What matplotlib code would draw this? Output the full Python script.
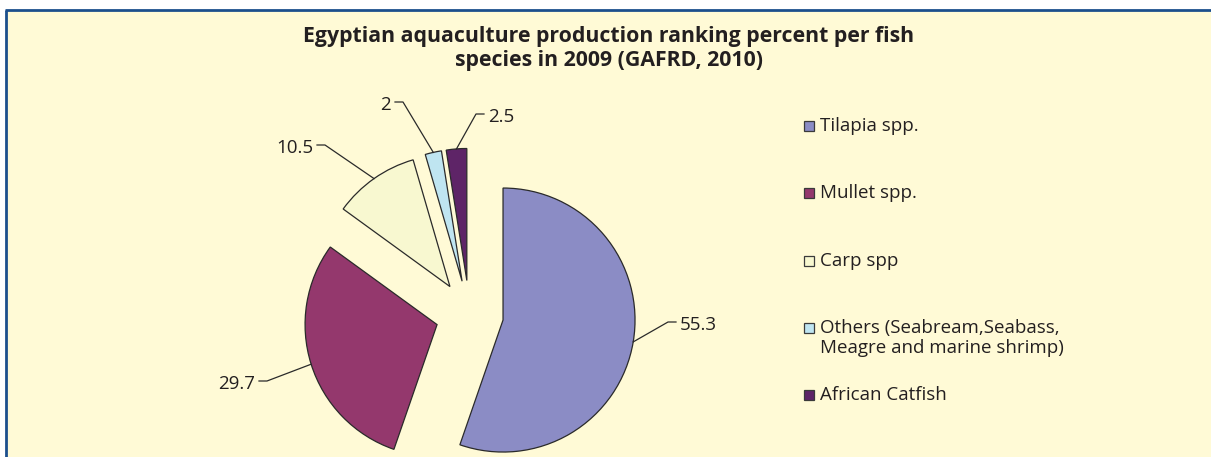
import matplotlib
matplotlib.use("Agg")
import matplotlib.pyplot as plt
from matplotlib.patches import Rectangle
import numpy as np

plt.rcParams['font.family'] = ['Open Sans', 'DejaVu Sans']

species = ['Tilapia spp.', 'Mullet spp.', 'Carp spp',
           'Others (Seabream,Seabass,\nMeagre and marine shrimp)', 'African Catfish']
percent = [55.3, 29.7, 10.5, 2.0, 2.5]
value_labels = ['55.3', '29.7', '10.5', '2', '2.5']
colors = ['#8b8cc5', '#94386d', '#f8f8d0', '#bfe5f1', '#5e2467']

title = 'Egyptian aquaculture production ranking percent per fish\nspecies in 2009 (GAFRD, 2010)'

W, H = 1211, 457
BG = '#fffad6'
BLUE = '#1c4f8c'


def Y(py):
    # pixel rows from top -> data y
    return H - py


fig = plt.figure(figsize=(W / 100, H / 100), dpi=100)
fig.patch.set_facecolor('white')
ax = fig.add_axes([0, 0, 1, 1])

# panel background and border (left + top)
ax.add_patch(Rectangle((6.5, 0), W, Y(10.5), facecolor=BG, edgecolor='none', zorder=0))
ax.plot([6.2, 6.2], [0, Y(10.2)], color=BLUE, lw=2.0, solid_capstyle='butt', zorder=1)
ax.plot([5.2, W], [Y(10.2), Y(10.2)], color=BLUE, lw=2.0, solid_capstyle='butt', zorder=1)

radius = 132
center = (469.5, Y(314.4))
wedges, _ = ax.pie(percent, colors=colors, startangle=90, counterclock=False,
                   explode=[34] * len(percent), radius=radius, center=center,
                   wedgeprops=dict(edgecolor='#2a2a2a', linewidth=0.9))

# leader elbows and label anchors (pixel coords)
elbows = [(668, 322), (267, 381), (325, 145), (403, 102), (476, 114)]
for w, lab, (ex, ey) in zip(wedges, value_labels, elbows):
    tm = np.deg2rad((w.theta1 + w.theta2) / 2)
    cx, cy = w.center
    sx, sy = cx + w.r * np.cos(tm), cy + w.r * np.sin(tm)
    ey = Y(ey)
    side = 1 if ex > sx else -1
    hx = ex + side * 8
    ax.plot([sx, ex, hx], [sy, ey, ey], color='#2a2a2a', lw=0.9, zorder=3)
    ax.text(hx + side * 4, ey - 3, lab, ha='left' if side > 0 else 'right',
            va='center', fontsize=13.5, color='#231f20')

# legend
row0, step = 126, 67.25
for i, (lab, col) in enumerate(zip(species, colors)):
    yc = Y(row0 + i * step)
    ax.add_patch(Rectangle((803.5, yc - 5), 10, 10, facecolor=col,
                           edgecolor='#3a3a3a', lw=0.9, zorder=3))
    ax.text(820, yc + 9, lab, ha='left', va='top', fontsize=13.5,
            color='#231f20', linespacing=1.18)

ax.text(609, Y(48.5), title, ha='center', va='center', fontsize=15.3,
        fontweight='bold', color='#231f20', linespacing=1.2)

ax.set_xlim(0, W)
ax.set_ylim(0, H)
ax.set_axis_off()

fig.savefig('out.png', dpi=100, facecolor='white')
